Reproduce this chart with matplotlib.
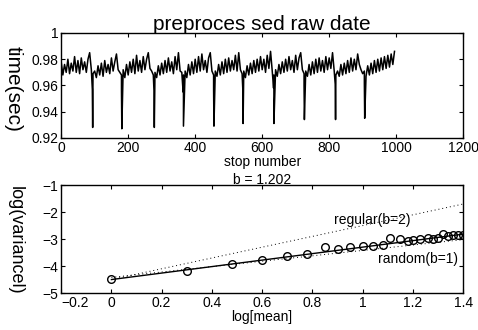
import matplotlib
matplotlib.use('Agg')
import matplotlib.pyplot as plt
import numpy as np

plt.rcParams['font.family'] = ['Liberation Sans', 'DejaVu Sans']
plt.rcParams['axes.unicode_minus'] = True

# raw stop times, sampled every 5 stops (spikes listed separately below)
stop_step = 5
stop_times = [
    0.978, 0.968, 0.976, 0.970, 0.980, 0.969, 0.977, 0.971, 0.982, 0.970,
    0.979, 0.969, 0.981, 0.972, 0.978, 0.970, 0.980, 0.985, 0.972, 0.969,
    0.971, 0.966, 0.975, 0.968, 0.977, 0.967, 0.979, 0.970, 0.976, 0.969,
    0.981, 0.971, 0.978, 0.984, 0.972, 0.970, 0.968, 0.972, 0.966, 0.976,
    0.968, 0.978, 0.970, 0.980, 0.969, 0.983, 0.971, 0.979, 0.970, 0.982,
    0.972, 0.980, 0.985, 0.973, 0.971, 0.968, 0.970, 0.966, 0.975, 0.968,
    0.977, 0.969, 0.979, 0.970, 0.981, 0.971, 0.978, 0.969, 0.982, 0.972,
    0.985, 0.971, 0.970, 0.968, 0.971, 0.966, 0.976, 0.968, 0.978, 0.969,
    0.980, 0.970, 0.982, 0.971, 0.984, 0.972, 0.979, 0.970, 0.981, 0.985,
    0.971, 0.968, 0.971, 0.967, 0.976, 0.968, 0.978, 0.969, 0.980, 0.970,
    0.981, 0.971, 0.979, 0.972, 0.983, 0.971, 0.985, 0.972, 0.969, 0.971,
    0.966, 0.975, 0.968, 0.977, 0.969, 0.979, 0.970, 0.980, 0.971, 0.982,
    0.972, 0.980, 0.970, 0.983, 0.973, 0.986, 0.971, 0.968, 0.972, 0.967,
    0.976, 0.969, 0.978, 0.970, 0.980, 0.971, 0.982, 0.972, 0.979, 0.970,
    0.983, 0.972, 0.981, 0.985, 0.972, 0.969, 0.971, 0.967, 0.976, 0.968,
    0.978, 0.969, 0.980, 0.970, 0.981, 0.971, 0.979, 0.970, 0.982, 0.972,
    0.981, 0.973, 0.985, 0.971, 0.968, 0.971, 0.967, 0.976, 0.968, 0.977,
    0.969, 0.979, 0.970, 0.981, 0.971, 0.980, 0.972, 0.984, 0.976, 0.972,
    0.969, 0.971, 0.967, 0.975, 0.968, 0.977, 0.969, 0.979, 0.970, 0.980,
    0.971, 0.981, 0.972, 0.982, 0.973, 0.983, 0.974, 0.984, 0.976, 0.986,
]
# the periodic drops: stop, shoulder value, lowest value
spike_stops = [93, 180, 277, 364, 455, 542, 634, 725, 818, 905]
spike_shoulder = [0.957, 0.956, 0.956, 0.955, 0.957, 0.958, 0.958, 0.960, 0.961, 0.962]
spike_min = [0.928, 0.927, 0.928, 0.929, 0.929, 0.931, 0.931, 0.934, 0.934, 0.935]

# variance vs mean (log-log)
log_mean = [0.0, 0.30, 0.48, 0.60, 0.70, 0.78, 0.85, 0.90, 0.95, 1.00,
            1.04, 1.08, 1.11, 1.15, 1.18, 1.20, 1.23, 1.26, 1.28, 1.30,
            1.32, 1.34, 1.36, 1.38, 1.40]
log_var = [-4.49, -4.17, -3.94, -3.78, -3.63, -3.56, -3.31, -3.38, -3.31, -3.26,
           -3.25, -3.21, -2.95, -3.01, -3.07, -3.04, -3.01, -2.97, -2.99, -2.96,
           -2.81, -2.89, -2.86, -2.84, -2.86]
fit_slope = 1.202
fit_intercept = -4.50
regular_slope, regular_intercept = 2.0, -4.50
random_slope, random_intercept = 1.0, -4.42


def matlab_box(ax):
    ax.tick_params(direction='in', top=True, right=True, length=3,
                   width=0.8, labelsize=10, pad=2)
    for s in ax.spines.values():
        s.set_linewidth(1.0)


fig = plt.figure(figsize=(4.78, 3.30), dpi=100)

ax1 = fig.add_axes([0.128, 0.582, 0.841, 0.318])
sx = np.array(spike_stops)
x_all = np.concatenate([np.arange(len(stop_times)) * stop_step, sx, sx + 1])
y_all = np.concatenate([stop_times, spike_shoulder, spike_min])
order = np.argsort(x_all, kind='stable')
ax1.plot(x_all[order], y_all[order], color='black', lw=1.1)
ax1.set_xlim(0, 1200)
ax1.set_ylim(0.92, 1.0)
ax1.set_xticks([0, 200, 400, 600, 800, 1000, 1200])
ax1.set_yticks([0.92, 0.94, 0.96, 0.98, 1.0])
ax1.set_yticklabels(['0.92', '0.94', '0.96', '0.98', '1'])
ax1.set_title('preproces sed raw date', fontsize=15, pad=2)
ax1.set_xlabel('stop number', fontsize=10, labelpad=0)
matlab_box(ax1)

ax2 = fig.add_axes([0.128, 0.112, 0.841, 0.327])
xs = np.array([log_mean[0], log_mean[-1]])
ax2.plot(xs, regular_intercept + regular_slope * xs, color='black', lw=0.7, ls=(0, (1, 3)))
ax2.plot(xs, random_intercept + random_slope * xs, color='black', lw=0.7, ls=(0, (1, 3)))
ax2.plot(xs, fit_intercept + fit_slope * xs, color='black', lw=1.0)
ax2.plot(log_mean, log_var, 'o', mfc='none', mec='black', ms=5.5, mew=1.0)
ax2.text(1.04, -2.3, 'regular(b=2)', fontsize=10, ha='center', va='center')
ax2.text(1.22, -3.75, 'random(b=1)', fontsize=10, ha='center', va='center')
ax2.set_xlim(-0.2, 1.4)
ax2.set_ylim(-5, -1)
ax2.set_xticks([-0.2, 0, 0.2, 0.4, 0.6, 0.8, 1.0, 1.2, 1.4])
ax2.set_xticklabels(['\u22120.2', '0', '0.2', '0.4', '0.6', '0.8', '1', '1.2', '1.4'])
ax2.set_yticks([-5, -4, -3, -2, -1])
ax2.set_yticklabels(['\u22125', '\u22124', '\u22123', '\u22122', '\u22121'])
ax2.set_title('b = 1.202', fontsize=10, pad=1)
ax2.set_xlabel('log[mean]', fontsize=10, labelpad=0)
matlab_box(ax2)
# MATLAB put the first x label a little to the right of its tick
ax2.get_xticklabels()[0].set_horizontalalignment('left')

fig.text(0.027, 1 - 89 / 330, 'time(sec)', rotation=-90, fontsize=15,
         ha='center', va='center')
fig.text(0.031, 1 - 240 / 330, 'log(variancel)', rotation=-90, fontsize=13,
         ha='center', va='center')

fig.savefig('out.png', dpi=100)
